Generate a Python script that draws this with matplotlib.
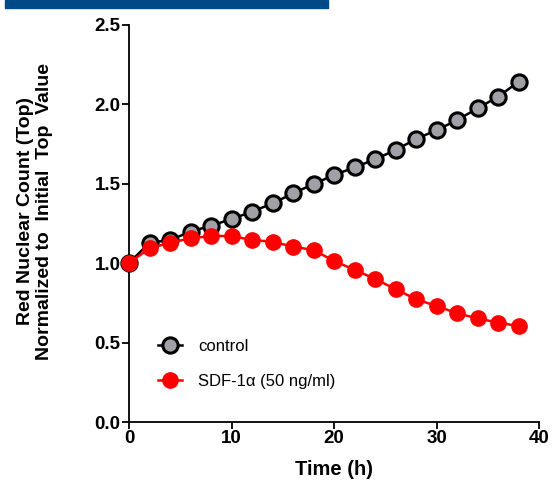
import matplotlib
matplotlib.use("Agg")
import matplotlib.pyplot as plt
from matplotlib.patches import Rectangle

plt.rcParams['font.family'] = ['Liberation Sans', 'DejaVu Sans']

# time points (h)
time_h = [0, 2, 4, 6, 8, 10, 12, 14, 16, 18, 20, 22, 24, 26, 28, 30, 32, 34, 36, 38]

control = [1.00, 1.128, 1.145, 1.197, 1.235, 1.277, 1.323, 1.375, 1.438, 1.497,
           1.553, 1.602, 1.652, 1.711, 1.780, 1.836, 1.899, 1.973, 2.046, 2.14]

sdf = [1.00, 1.092, 1.128, 1.155, 1.170, 1.170, 1.145, 1.134, 1.103, 1.082,
       1.013, 0.958, 0.900, 0.836, 0.772, 0.730, 0.684, 0.652, 0.625, 0.604]

x_ticks = [0, 10, 20, 30, 40]
y_ticks = [0.0, 0.5, 1.0, 1.5, 2.0, 2.5]

fig = plt.figure(figsize=(5.52, 4.8), dpi=100)
ax = fig.add_axes([0.2337, 0.1208, 0.7428, 0.828])

# blue banner cut off at the top
fig.patches.append(Rectangle((5 / 552, 1 - 8 / 480), 323 / 552, 8 / 480,
                             transform=fig.transFigure, color='#004a87', zorder=0))

ax.plot(time_h, control, color='black', lw=1.8, marker='o', ms=11,
        mfc='#a0a0a6', mec='black', mew=2.2, label='control', clip_on=False, zorder=3)
ax.plot(time_h, sdf, color='red', lw=1.8, marker='o', ms=11,
        mfc='red', mec='red', mew=1, label='SDF-1\u03b1 (50 ng/ml)', clip_on=False, zorder=4)

ax.set_xlim(0, 40)
ax.set_ylim(0, 2.5)
ax.set_xticks(x_ticks)
ax.set_yticks(y_ticks)
ax.set_yticklabels(['%.1f' % v for v in y_ticks])

for s in ['top', 'right']:
    ax.spines[s].set_visible(False)
for s in ['left', 'bottom']:
    ax.spines[s].set_linewidth(1.3)

ax.tick_params(direction='out', length=5, width=1.3, labelsize=13.5, pad=1)
for lab in ax.get_xticklabels() + ax.get_yticklabels():
    lab.set_fontweight('bold')

ax.set_xlabel('Time (h)', fontsize=14.5, fontweight='bold', labelpad=9)
ax.set_ylabel('Red Nuclear Count (Top)\nNormalized to  Initial  Top  Value',
              fontsize=14, fontweight='bold', linespacing=1.2)
ax.yaxis.set_label_coords(-0.185, 0.53)

ax.legend(loc='lower left', bbox_to_anchor=(0.035, 0.045), frameon=False,
          fontsize=12, handlelength=1.4, handletextpad=1.0, labelspacing=1.2)

fig.savefig('out.png', dpi=100)
